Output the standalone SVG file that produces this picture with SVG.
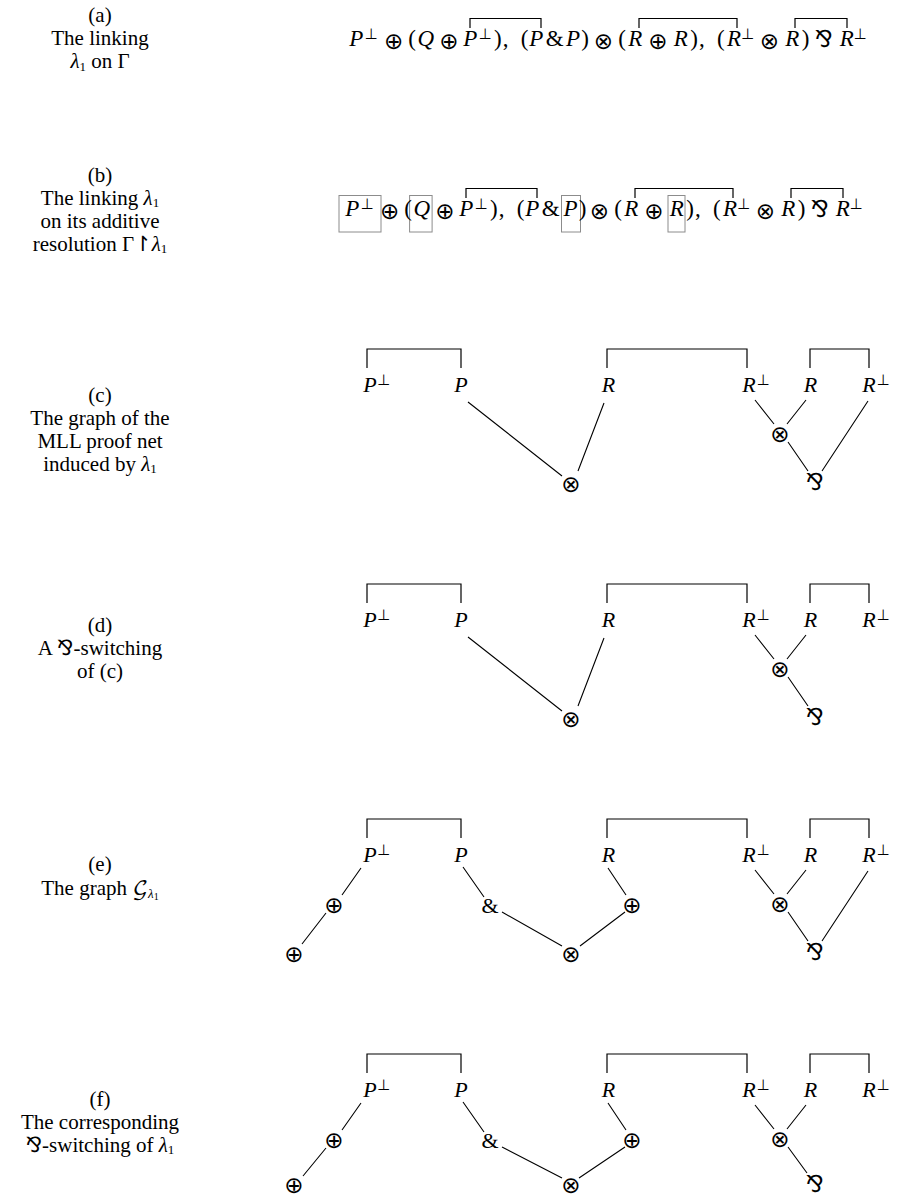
<svg xmlns="http://www.w3.org/2000/svg" width="898" height="1198" viewBox="0 0 898 1198">
<style>
text{fill:#000}
.lbl{font-family:"Liberation Serif","Times New Roman",Times,serif;font-size:21px;text-anchor:middle}
.li{font-style:italic}
.sub{font-size:13px}
.sub2{font-size:10px}
.i{font-family:"Liberation Serif","Times New Roman",serif;font-style:italic;font-size:23px;text-anchor:middle}
.r{font-family:"Liberation Serif","Times New Roman",serif;font-size:23px;text-anchor:middle}
.o{font-family:"DejaVu Sans",sans-serif;font-size:23px;text-anchor:middle}
.s{font-family:"DejaVu Sans",sans-serif;font-size:15px;text-anchor:middle}
.gi{font-family:"Liberation Serif","Times New Roman",serif;font-style:italic;font-size:22px;text-anchor:middle}
.gr{font-family:"Liberation Serif","Times New Roman",serif;font-size:22px;text-anchor:middle}
.gs{font-family:"DejaVu Sans",sans-serif;font-size:15px}
.par{font-family:"DejaVu Sans",sans-serif}
.cal{font-family:"DejaVu Math TeX Gyre","DejaVu Sans",serif;font-style:normal}
.br{fill:none;stroke:#000;stroke-width:1.2}
.ln{fill:none;stroke:#000;stroke-width:1.1}
.box{fill:none;stroke:#8c8c8c;stroke-width:1}
</style>

<!-- Left captions -->
<g id="caption-a">
<text class="lbl" x="100" y="22">(a)</text>
<text class="lbl" x="100" y="45">The linking</text>
<text class="lbl" x="100" y="68"><tspan class="li">λ</tspan><tspan class="sub" dy="2.5">1</tspan><tspan dy="-2.5"> on Γ</tspan></text>
</g>
<g id="caption-b">
<text class="lbl" x="100" y="181.5">(b)</text>
<text class="lbl" x="100" y="204.5">The linking <tspan class="li">λ</tspan><tspan class="sub" dy="2.5">1</tspan></text>
<text class="lbl" x="100" y="227.5">on its additive</text>
<text class="lbl" x="100" y="250.5">resolution Γ<tspan class="par">↾</tspan><tspan class="li">λ</tspan><tspan class="sub" dy="2.5">1</tspan></text>
</g>
<g id="caption-c">
<text class="lbl" x="100" y="401.5">(c)</text>
<text class="lbl" x="100" y="424.5">The graph of the</text>
<text class="lbl" x="100" y="447.5">MLL proof net</text>
<text class="lbl" x="100" y="470.5">induced by <tspan class="li">λ</tspan><tspan class="sub" dy="2.5">1</tspan></text>
</g>
<g id="caption-d">
<text class="lbl" x="100" y="632">(d)</text>
<text class="lbl" x="100" y="655">A <tspan class="par">⅋</tspan>-switching</text>
<text class="lbl" x="100" y="678">of (c)</text>
</g>
<g id="caption-e">
<text class="lbl" x="100" y="871">(e)</text>
<text class="lbl" x="100" y="895">The graph <tspan class="cal">𝒢</tspan><tspan class="sub li" dy="3">λ</tspan><tspan class="sub2" dy="2">1</tspan></text>
</g>
<g id="caption-f">
<text class="lbl" x="100" y="1105.5">(f)</text>
<text class="lbl" x="100" y="1128.5">The corresponding</text>
<text class="lbl" x="100" y="1151.5"><tspan class="par">⅋</tspan>-switching of <tspan class="li">λ</tspan><tspan class="sub" dy="2.5">1</tspan></text>
</g>

<!-- Formula (a) -->
<g id="formula-a">
<text y="46">
<tspan class="i" x="356.4">P</tspan><tspan class="s" x="371" y="38.5">⊥</tspan><tspan class="o" x="393.6" y="48.5">⊕</tspan><tspan class="r" x="412.1" y="46">(</tspan><tspan class="i" x="425.7">Q</tspan><tspan class="o" x="448.8" y="48.5">⊕</tspan><tspan class="i" x="470.3" y="46">P</tspan><tspan class="s" x="485" y="38.5">⊥</tspan><tspan class="r" x="497.8" y="46">)</tspan><tspan class="r" x="505.5">,</tspan><tspan class="r" x="524.6">(</tspan><tspan class="i" x="536.4">P</tspan><tspan class="r" x="554.7">&amp;</tspan><tspan class="i" x="573.1">P</tspan><tspan class="r" x="585.0">)</tspan><tspan class="o" x="603.4" y="48.5">⊗</tspan><tspan class="r" x="622.0" y="46">(</tspan><tspan class="i" x="635.2">R</tspan><tspan class="o" x="658.0" y="48.5">⊕</tspan><tspan class="i" x="680.8" y="46">R</tspan><tspan class="r" x="694.1">)</tspan><tspan class="r" x="701.8">,</tspan><tspan class="r" x="720.9">(</tspan><tspan class="i" x="734.1">R</tspan><tspan class="s" x="747.5" y="38.5">⊥</tspan><tspan class="o" x="769.5" y="48.5">⊗</tspan><tspan class="i" x="792.3" y="46">R</tspan><tspan class="r" x="805.6">)</tspan><tspan class="o" x="824.0" y="47">⅋</tspan><tspan class="i" x="846.8" y="46">R</tspan><tspan class="s" x="860" y="38.5">⊥</tspan>
</text>
</g>

<!-- Formula (b) -->
<g id="formula-b" transform="translate(-4,170)">
<rect class="box" x="343" y="25.5" width="42" height="36.5"/>
<rect class="box" x="413.6" y="25.5" width="22.5" height="36.5"/>
<rect class="box" x="565.5" y="25.5" width="19" height="36.5"/>
<rect class="box" x="672" y="25.5" width="17" height="36.5"/>
<text y="46">
<tspan class="i" x="356.4">P</tspan><tspan class="s" x="371" y="38.5">⊥</tspan><tspan class="o" x="393.6" y="48.5">⊕</tspan><tspan class="r" x="412.1" y="46">(</tspan><tspan class="i" x="425.7">Q</tspan><tspan class="o" x="448.8" y="48.5">⊕</tspan><tspan class="i" x="470.3" y="46">P</tspan><tspan class="s" x="485" y="38.5">⊥</tspan><tspan class="r" x="497.8" y="46">)</tspan><tspan class="r" x="505.5">,</tspan><tspan class="r" x="524.6">(</tspan><tspan class="i" x="536.4">P</tspan><tspan class="r" x="554.7">&amp;</tspan><tspan class="i" x="574.5">P</tspan><tspan class="r" x="586.5">)</tspan><tspan class="o" x="603.4" y="48.5">⊗</tspan><tspan class="r" x="622.0" y="46">(</tspan><tspan class="i" x="635.2">R</tspan><tspan class="o" x="658.0" y="48.5">⊕</tspan><tspan class="i" x="680.8" y="46">R</tspan><tspan class="r" x="694.1">)</tspan><tspan class="r" x="701.8">,</tspan><tspan class="r" x="720.9">(</tspan><tspan class="i" x="734.1">R</tspan><tspan class="s" x="747.5" y="38.5">⊥</tspan><tspan class="o" x="769.5" y="48.5">⊗</tspan><tspan class="i" x="792.3" y="46">R</tspan><tspan class="r" x="805.6">)</tspan><tspan class="o" x="824.0" y="47">⅋</tspan><tspan class="i" x="846.8" y="46">R</tspan><tspan class="s" x="860" y="38.5">⊥</tspan>
</text>
</g>

<!-- Row (c) nodes -->
<g id="row-c">
<g id="c-Pperp"><text class="gi" x="370" y="392">P</text><text class="gs" x="377" y="384.5">⊥</text></g>
<g id="c-P"><text class="gi" x="461" y="392">P</text></g>
<g id="c-R1"><text class="gi" x="608.5" y="392">R</text></g>
<g id="c-Rperp1"><text class="gi" x="749" y="392">R</text><text class="gs" x="756.5" y="384.5">⊥</text></g>
<g id="c-R2"><text class="gi" x="810.5" y="392">R</text></g>
<g id="c-Rperp2"><text class="gi" x="869" y="392">R</text><text class="gs" x="876.5" y="384.5">⊥</text></g>
<g id="c-tensor1"><text class="o" x="571" y="491.5">⊗</text></g>
<g id="c-tensor2"><text class="o" x="780" y="441.5">⊗</text></g>
<g id="c-par"><text class="o" x="815" y="490">⅋</text></g>
</g>

<!-- Row (d) nodes -->
<g id="row-d" transform="translate(0,235)">
<g id="d-Pperp"><text class="gi" x="370" y="392">P</text><text class="gs" x="377" y="384.5">⊥</text></g>
<g id="d-P"><text class="gi" x="461" y="392">P</text></g>
<g id="d-R1"><text class="gi" x="608.5" y="392">R</text></g>
<g id="d-Rperp1"><text class="gi" x="749" y="392">R</text><text class="gs" x="756.5" y="384.5">⊥</text></g>
<g id="d-R2"><text class="gi" x="810.5" y="392">R</text></g>
<g id="d-Rperp2"><text class="gi" x="869" y="392">R</text><text class="gs" x="876.5" y="384.5">⊥</text></g>
<g id="d-tensor1"><text class="o" x="571" y="491.5">⊗</text></g>
<g id="d-tensor2"><text class="o" x="780" y="441.5">⊗</text></g>
<g id="d-par"><text class="o" x="815" y="490">⅋</text></g>
</g>

<!-- Row (e) nodes -->
<g id="row-e" transform="translate(0,470)">
<g id="e-Pperp"><text class="gi" x="370" y="392">P</text><text class="gs" x="377" y="384.5">⊥</text></g>
<g id="e-P"><text class="gi" x="461" y="392">P</text></g>
<g id="e-R1"><text class="gi" x="608.5" y="392">R</text></g>
<g id="e-Rperp1"><text class="gi" x="749" y="392">R</text><text class="gs" x="756.5" y="384.5">⊥</text></g>
<g id="e-R2"><text class="gi" x="810.5" y="392">R</text></g>
<g id="e-Rperp2"><text class="gi" x="869" y="392">R</text><text class="gs" x="876.5" y="384.5">⊥</text></g>
<g id="e-plus1"><text class="o" x="334" y="442.5">⊕</text></g>
<g id="e-plus2"><text class="o" x="294" y="491.5">⊕</text></g>
<g id="e-with"><text class="gr" x="490" y="442.5">&amp;</text></g>
<g id="e-plus3"><text class="o" x="632" y="442.5">⊕</text></g>
<g id="e-tensor1"><text class="o" x="571" y="491.5">⊗</text></g>
<g id="e-tensor2"><text class="o" x="780" y="441.5">⊗</text></g>
<g id="e-par"><text class="o" x="815" y="490">⅋</text></g>
</g>

<!-- Row (f) nodes -->
<g id="row-f" transform="translate(0,705)">
<g id="f-Pperp"><text class="gi" x="370" y="392">P</text><text class="gs" x="377" y="384.5">⊥</text></g>
<g id="f-P"><text class="gi" x="461" y="392">P</text></g>
<g id="f-R1"><text class="gi" x="608.5" y="392">R</text></g>
<g id="f-Rperp1"><text class="gi" x="749" y="392">R</text><text class="gs" x="756.5" y="384.5">⊥</text></g>
<g id="f-R2"><text class="gi" x="810.5" y="392">R</text></g>
<g id="f-Rperp2"><text class="gi" x="869" y="392">R</text><text class="gs" x="876.5" y="384.5">⊥</text></g>
<g id="f-plus1"><text class="o" x="334" y="442.5">⊕</text></g>
<g id="f-plus2"><text class="o" x="294" y="487.5">⊕</text></g>
<g id="f-with"><text class="gr" x="490" y="442.5">&amp;</text></g>
<g id="f-plus3"><text class="o" x="632" y="442.5">⊕</text></g>
<g id="f-tensor1"><text class="o" x="571" y="487.5">⊗</text></g>
<g id="f-tensor2"><text class="o" x="780" y="441.5">⊗</text></g>
<g id="f-par"><text class="o" x="815" y="487">⅋</text></g>
</g>

<!-- Connectors -->
<g id="connectors">
<g id="conn-a">
<path class="br" d="M470,28V18.5H541V28M639,28V18.5H737V28M795,28V18.5H847V28"/>
</g>
<g id="conn-b" transform="translate(-4,170)">
<path class="br" d="M470,28V18.5H541V28M639,28V18.5H737V28M795,28V18.5H847V28"/>
</g>
<g id="conn-c">
<path class="br" d="M367,368V349H461V368M607,368V349H747V368M810,368V349H869V368"/>
<path class="ln" d="M468,402L562,476M604,403L578,471M755,400L774,424M806,400L787,424M788,442L808,471M868,401L822,471"/>
</g>
<g id="conn-d" transform="translate(0,235)">
<path class="br" d="M367,368V349H461V368M607,368V349H747V368M810,368V349H869V368"/>
<path class="ln" d="M468,402L562,476M604,403L578,471M755,400L774,424M806,400L787,424M788,442L808,471"/>
</g>
<g id="conn-e" transform="translate(0,470)">
<path class="br" d="M367,368V349H461V368M607,368V349H747V368M810,368V349H869V368"/>
<path class="ln" d="M361,398L342,425M326,443L302,474M463,397L484,427M502,442L562,476M608,398L626,425M625,442L580,476M755,400L774,424M806,400L787,424M788,442L808,471M868,401L822,471"/>
</g>
<g id="conn-f" transform="translate(0,705)">
<path class="br" d="M367,368V349H461V368M607,368V349H747V368M810,368V349H869V368"/>
<path class="ln" d="M361,398L342,425M326,443L303,471M463,397L484,427M502,442L562,473M608,398L626,425M625,442L579,473M755,400L774,424M806,400L787,424M788,442L807,468"/>
</g>
</g>
</svg>
